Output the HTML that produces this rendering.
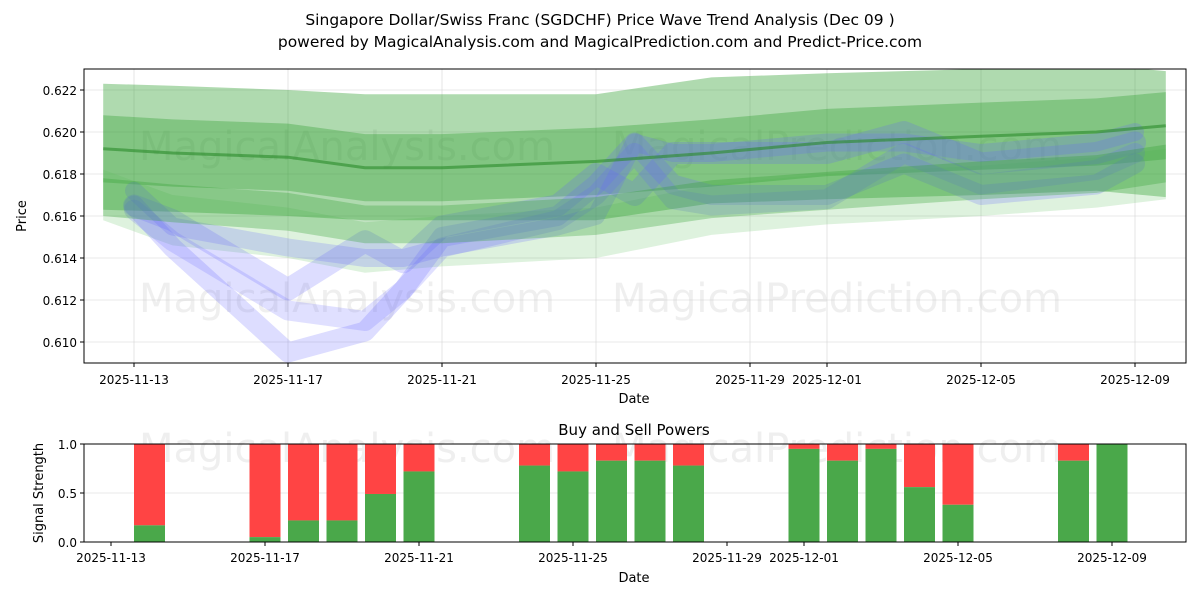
<!DOCTYPE html>
<html><head><meta charset="utf-8"><style>
body{margin:0;background:#fff;font-family:"Liberation Sans","DejaVu Sans",sans-serif}
svg text{font-family:"DejaVu Sans","Liberation Sans",sans-serif}
</style></head><body>
<svg id="c" width="1200" height="600" xmlns="http://www.w3.org/2000/svg">
<defs><clipPath id="clipTop"><rect x="84" y="69" width="1102" height="294"/></clipPath></defs>
<text x="600" y="25" font-size="15.5" text-anchor="middle">Singapore Dollar/Swiss Franc (SGDCHF) Price Wave Trend Analysis (Dec 09 )</text>
<text x="600" y="47" font-size="15.5" text-anchor="middle">powered by MagicalAnalysis.com and MagicalPrediction.com and Predict-Price.com</text>
<g id="topg"></g><g id="plotg" clip-path="url(#clipTop)"></g><g id="frameg"></g><g id="botg"></g>
</svg>
<script>
const NS='http://www.w3.org/2000/svg';
// ---- data ----
const yTicks=[0.610,0.612,0.614,0.616,0.618,0.620,0.622];
const xTickLabels=['2025-11-13','2025-11-17','2025-11-21','2025-11-25','2025-11-29','2025-12-01','2025-12-05','2025-12-09'];
const xTickDays=[0,4,8,12,16,18,22,26];
const greenDays=[-0.8,1,4,6,8,12,15,18,22,25,26.8];
const greenWide=[0.6193,0.6192,0.619,0.6188,0.6188,0.6188,0.6196,0.6198,0.620,0.6202,0.6199];
const greenMid=[0.6192,0.619,0.6188,0.6183,0.6183,0.6186,0.619,0.6195,0.6198,0.620,0.6203];
const greenLow=[0.6169,0.6166,0.6162,0.6156,0.6156,0.616,0.6168,0.6172,0.6177,0.618,0.6185];
const greenFaint=[0.617,0.6158,0.6152,0.6145,0.6148,0.6152,0.6163,0.6168,0.6172,0.6176,0.618];
const blueDays1=[0,1,4,6,7,8,11,12,13,14,15,18,20,22,25,26];
const blue1=[0.6165,0.6145,0.6095,0.6105,0.6125,0.615,0.616,0.6175,0.6195,0.6175,0.617,0.617,0.6185,0.617,0.6175,0.6185];
const blue2=[0.6165,0.6158,0.6125,0.6148,0.6138,0.6155,0.6165,0.618,0.617,0.619,0.619,0.619,0.620,0.6185,0.619,0.6195];
const blue3=[0.6172,0.6155,0.6145,0.614,0.614,0.6145,0.6155,0.616,0.6195,0.619,0.619,0.6195,0.6195,0.619,0.6195,0.620];
const blue4=[0.6163,0.6148,0.6115,0.611,0.6125,0.6145,0.6158,0.617,0.619,0.6168,0.6165,0.6168,0.619,0.6175,0.6182,0.619];
const barDays=[1,4,5,6,7,8,11,12,13,14,15,18,19,20,21,22,25,26];
const buyVals=[0.17,0.05,0.22,0.22,0.49,0.72,0.78,0.72,0.83,0.83,0.78,0.95,0.83,0.95,0.56,0.38,0.83,1.0];
const barTicks=[0,0.5,1.0];
// ---- scales ----
const X=d=>134+d*38.5, Y=v=>342-(v-0.610)*21000;
const XB=d=>111+d*38.5, YB=v=>542-v*98;
function el(p,t,a,txt){const e=document.createElementNS(NS,t);for(const k in a)e.setAttribute(k,a[k]);if(txt!=null)e.textContent=txt;p.appendChild(e);return e;}
const topG=document.getElementById('topg'), plotG=document.getElementById('plotg'), frameG=document.getElementById('frameg'), botG=document.getElementById('botg');
yTicks.forEach(v=>{const g=el(topG,'line',{x1:84,x2:1186,y1:Y(v),y2:Y(v),stroke:'#ccc','stroke-width':0.8,opacity:0.6});

const t=el(topG,'text',{x:77,y:Y(v)+5,'font-size':12,'text-anchor':'end'},v.toFixed(3));

el(topG,'line',{x1:80,x2:84,y1:Y(v),y2:Y(v),stroke:'#000'});});
xTickDays.forEach((d,i)=>{const g=el(topG,'line',{x1:X(d),x2:X(d),y1:69,y2:363,stroke:'#ccc','stroke-width':0.8,opacity:0.6});

el(topG,'line',{x1:X(d),x2:X(d),y1:363,y2:367,stroke:'#000'});
const t=el(topG,'text',{x:X(d),y:384,'font-size':12,'text-anchor':'middle'},xTickLabels[i]);
});
[[347,160,'MagicalAnalysis.com'],[837,160,'MagicalPrediction.com'],[347,312,'MagicalAnalysis.com'],[837,312,'MagicalPrediction.com'],[347,462,'MagicalAnalysis.com'],[837,462,'MagicalPrediction.com']].forEach(w=>{
const t=el(topG,'text',{x:w[0],y:w[1],'font-size':40,'text-anchor':'middle',fill:'#ccc',opacity:0.3},w[2]);
});
function band(days,vals,hw,color,op,name){
 const pts=days.map((d,i)=>X(d)+','+Y(vals[i]+hw)).concat(days.map((d,i)=>[d,i]).reverse().map(([d,i])=>X(d)+','+Y(vals[i]-hw)));
 const p=el(plotG,'polygon',{points:pts.join(' '),fill:color,opacity:op});
 }
function wave(days,vals,w,op,name){
 const p=el(plotG,'polyline',{points:days.map((d,i)=>X(d)+','+Y(vals[i])).join(' '),fill:'none',stroke:'#6666ff','stroke-width':w,opacity:op,'stroke-linejoin':'round','stroke-linecap':'round'});
 }
band(greenDays,greenWide,0.003,'#2e9e2e',0.38,'green-wide-band');
band(greenDays,greenMid,0.0016,'#2e9e2e',0.35,'green-mid-band');
band(greenDays,greenFaint,0.0012,'#5cbf5c',0.2,'green-faint-band');
wave(blueDays1,blue1,20,0.22,'blue-wave-1');
wave(blueDays1,blue2,22,0.22,'blue-wave-2');
wave(blueDays1,blue3,18,0.22,'blue-wave-3');
wave(blueDays1,blue4,20,0.2,'blue-wave-4');
band(greenDays,greenLow,0.0009,'#2e9e2e',0.3,'green-low-band');
const ln=el(plotG,'polyline',{points:greenDays.map((d,i)=>X(d)+','+Y(greenMid[i])).join(' '),fill:'none',stroke:'#2a8a2a','stroke-width':3,opacity:0.6});

const fr=el(frameG,'rect',{x:84,y:69,width:1102,height:294,fill:'none',stroke:'#000'});
let t=el(frameG,'text',{x:634,y:403,'font-size':13,'text-anchor':'middle'},'Date');
t=el(frameG,'text',{x:26,y:216,'font-size':13,'text-anchor':'middle',transform:'rotate(-90 26 216)'},'Price');
t=el(botG,'text',{x:634,y:435,'font-size':15,'text-anchor':'middle'},'Buy and Sell Powers');
barTicks.forEach(v=>{el(botG,'line',{x1:84,x2:1186,y1:YB(v),y2:YB(v),stroke:'#ccc','stroke-width':0.8,opacity:0.6});
el(botG,'line',{x1:80,x2:84,y1:YB(v),y2:YB(v),stroke:'#000'});
const tt=el(botG,'text',{x:77,y:YB(v)+5,'font-size':12,'text-anchor':'end'},v.toFixed(1));});
xTickDays.forEach((d,i)=>{el(botG,'line',{x1:XB(d),x2:XB(d),y1:542,y2:546,stroke:'#000'});
const tt=el(botG,'text',{x:XB(d),y:562,'font-size':12,'text-anchor':'middle'},xTickLabels[i]);});
barDays.forEach((d,i)=>{const b=buyVals[i],cx=XB(d);
const r=el(botG,'rect',{x:cx-15.5,y:YB(1),width:31,height:YB(b)-YB(1),fill:'#ff4444'});
const g=el(botG,'rect',{x:cx-15.5,y:YB(b),width:31,height:YB(0)-YB(b),fill:'#4aa84a'});});
const f2=el(botG,'rect',{x:84,y:444,width:1102,height:98,fill:'none',stroke:'#000'});
t=el(botG,'text',{x:634,y:582,'font-size':13,'text-anchor':'middle'},'Date');
t=el(botG,'text',{x:43,y:493,'font-size':13,'text-anchor':'middle',transform:'rotate(-90 43 493)'},'Signal Strength');
</script>
</body></html>
